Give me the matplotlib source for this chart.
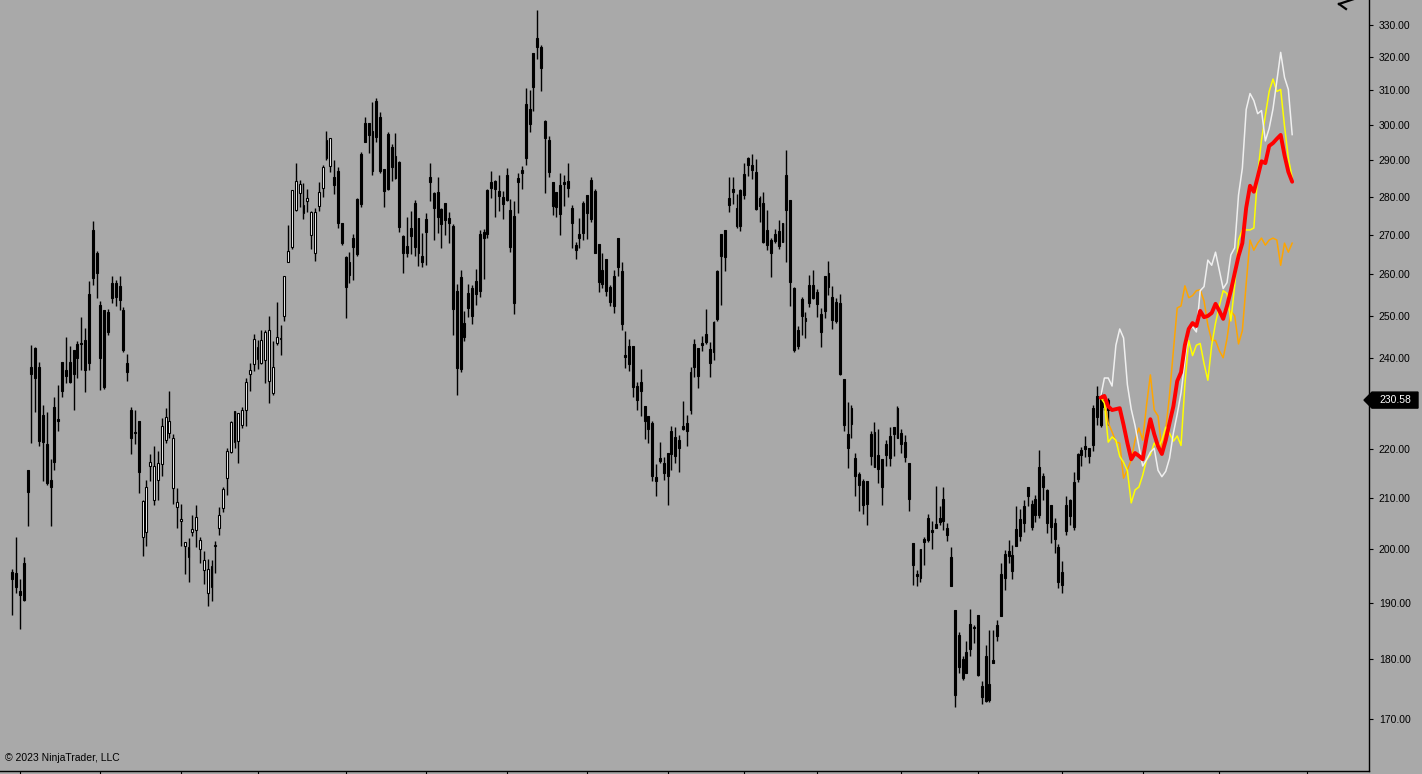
import matplotlib
matplotlib.use("Agg")
import matplotlib.pyplot as plt
import numpy as np
from matplotlib.patches import Polygon
from matplotlib.lines import Line2D
from matplotlib.transforms import IdentityTransform
from matplotlib.ticker import FixedLocator, NullLocator, FuncFormatter

plt.rcParams['font.family'] = ['Liberation Sans', 'DejaVu Sans']

# daily bars
bar_open = [
    195.6, 195.5, 192.1, 197.4, 215.7, 238.1, 242.4, 238.1, 227.3, 221.1,
    213.7, 229.0, 226.4, 239.2, 237.2, 239.2, 241.8, 243.3, 243.5, 244.3,
    255.3, 271.3, 265.5, 252.6, 251.3, 250.9, 258.0, 258.0, 257.1, 251.3,
    239.0, 228.4, 223.7, 226.0, 202.3, 203.3, 216.5, 209.6, 213.7, 216.9,
    222.0, 223.4, 212.0, 208.2, 205.4, 200.5, 198.4, 203.3, 203.7, 199.9,
    196.0, 191.7, 192.9, 200.5, 204.1, 207.9, 214.0, 219.4, 221.5, 221.7,
    225.2, 228.5, 236.5, 238.6, 239.9, 238.9, 239.5, 234.8, 232.2, 243.4,
    244.4, 250.0, 263.2, 267.0, 276.5, 281.0, 275.7, 279.0, 270.1, 265.3,
    277.7, 282.4, 290.6, 288.3, 285.3, 286.9, 273.0, 264.5, 263.0, 269.2,
    279.5, 291.7, 300.6, 300.6, 298.3, 306.8, 302.3, 287.7, 297.3, 293.8,
    291.1, 289.4, 269.7, 267.2, 271.7, 278.3, 274.3, 264.6, 274.2, 285.4,
    281.0, 281.3, 276.8, 278.3, 274.4, 272.4, 255.9, 259.3, 248.2, 255.5,
    256.7, 258.5, 270.3, 270.7, 281.8, 283.9, 284.3, 281.6, 280.1, 285.9,
    276.6, 275.0, 285.2, 287.3, 305.9, 304.5, 321.2, 325.8, 323.0, 301.0,
    295.8, 284.0, 281.3, 283.3, 284.1, 284.3, 277.0, 267.4, 270.2, 278.3,
    280.5, 284.6, 281.6, 267.6, 261.0, 263.8, 257.0, 259.5, 269.1, 260.8,
    240.8, 242.9, 242.9, 233.6, 234.6, 229.2, 227.0, 225.6, 214.2, 218.1,
    217.2, 219.3, 223.9, 222.5, 222.0, 225.0, 225.5, 236.8, 243.3, 242.4,
    243.6, 245.7, 242.1, 248.5, 260.8, 270.2, 271.3, 279.7, 282.0, 277.0,
    281.8, 286.1, 290.5, 288.6, 286.7, 279.8, 278.3, 271.3, 268.7, 270.2,
    271.1, 273.0, 285.9, 279.2, 256.7, 246.6, 253.9, 249.5, 257.3, 257.5,
    255.6, 250.4, 259.6, 260.4, 254.5, 253.3, 253.0, 235.2, 223.2, 228.9,
    218.1, 214.9, 213.5, 213.5, 223.3, 223.7, 218.8, 218.0, 221.1, 222.7,
    224.7, 228.9, 223.5, 221.6, 217.1, 201.1, 195.2, 199.9, 201.9, 206.0,
    203.6, 204.9, 206.0, 209.8, 204.1, 198.4, 188.7, 184.2, 180.0, 181.3,
    186.1, 185.7, 187.7, 175.5, 180.5, 175.8, 179.8, 185.9, 195.3, 199.0,
    199.6, 198.8, 203.9, 205.9, 208.3, 212.3, 208.8, 209.8, 216.3, 214.4,
    211.6, 208.6, 205.0, 200.3, 195.7, 208.6, 209.6, 213.2, 219.0, 219.8,
    220.6, 220.3, 228.9, 231.4, 230.9, 230.9, 228.3,
]
bar_high = [
    196.2, 202.2, 194.4, 198.5, 215.7, 243.1, 242.7, 239.2, 229.5, 227.9,
    218.0, 231.2, 233.9, 239.2, 244.9, 242.9, 242.0, 243.9, 249.6, 247.0,
    258.3, 273.7, 265.9, 253.6, 251.4, 251.5, 259.7, 258.7, 259.7, 252.1,
    241.0, 229.0, 228.3, 226.0, 209.6, 213.7, 219.0, 220.6, 219.6, 226.6,
    228.8, 232.7, 223.2, 212.0, 208.8, 201.4, 202.1, 206.5, 208.6, 202.3,
    199.6, 198.0, 197.9, 201.5, 208.1, 212.2, 220.2, 226.1, 228.1, 227.7,
    229.0, 235.6, 238.9, 245.6, 244.3, 246.6, 246.6, 249.9, 243.9, 253.3,
    247.8, 259.5, 272.5, 281.8, 289.2, 284.7, 283.7, 282.2, 276.3, 277.0,
    284.0, 288.8, 298.1, 296.3, 290.1, 288.1, 273.0, 264.7, 265.7, 270.3,
    279.7, 292.2, 302.3, 300.6, 306.5, 307.8, 303.7, 287.7, 297.8, 294.4,
    297.6, 289.9, 270.1, 274.8, 276.3, 279.2, 274.3, 270.6, 275.7, 289.1,
    281.4, 285.3, 277.0, 278.3, 276.0, 272.9, 257.7, 261.0, 251.1, 257.7,
    257.3, 261.3, 271.3, 271.5, 282.1, 287.1, 284.6, 285.9, 281.6, 287.8,
    279.5, 278.8, 286.6, 288.4, 310.8, 310.2, 321.2, 334.8, 323.8, 301.3,
    296.9, 284.0, 281.3, 286.4, 285.8, 289.1, 277.9, 268.3, 274.4, 278.8,
    280.5, 285.3, 282.0, 267.6, 265.3, 263.8, 257.5, 261.0, 269.1, 263.2,
    246.4, 244.5, 242.9, 234.5, 237.6, 229.2, 227.0, 226.1, 217.0, 221.6,
    218.4, 219.3, 225.0, 224.7, 223.1, 230.3, 227.3, 237.9, 244.5, 242.4,
    245.2, 251.5, 243.7, 248.7, 261.0, 270.2, 271.3, 285.3, 285.3, 280.8,
    282.0, 289.1, 290.9, 291.7, 290.3, 280.3, 281.3, 276.6, 269.1, 271.5,
    273.9, 273.2, 292.8, 279.2, 256.9, 247.6, 254.5, 250.9, 259.9, 261.0,
    256.3, 251.9, 259.6, 263.3, 257.2, 254.3, 255.3, 235.2, 230.2, 229.5,
    219.2, 215.3, 213.8, 213.5, 223.9, 225.9, 224.4, 218.0, 221.9, 224.8,
    224.8, 229.2, 224.4, 223.1, 217.1, 201.1, 196.0, 199.9, 202.3, 206.8,
    205.5, 212.4, 208.4, 212.2, 205.0, 200.3, 188.7, 184.8, 180.5, 183.1,
    188.8, 186.0, 187.7, 176.3, 182.5, 185.0, 185.0, 186.9, 197.4, 199.8,
    201.8, 200.8, 208.3, 207.8, 209.6, 212.3, 209.5, 210.6, 219.9, 215.0,
    211.8, 208.6, 206.0, 201.0, 197.8, 210.3, 209.8, 215.3, 219.2, 220.5,
    222.8, 220.3, 229.5, 233.6, 232.4, 231.6, 231.0,
]
bar_low = [
    187.8, 191.8, 185.3, 190.3, 204.4, 221.4, 228.0, 220.7, 213.5, 212.7,
    204.5, 215.6, 223.8, 231.3, 234.3, 234.3, 228.3, 235.6, 237.4, 232.4,
    237.2, 257.5, 254.2, 232.9, 233.0, 245.4, 253.0, 252.3, 251.3, 241.4,
    234.8, 219.1, 221.2, 210.9, 198.7, 200.5, 213.5, 208.5, 209.5, 214.5,
    221.4, 222.3, 208.8, 204.1, 200.5, 195.3, 193.7, 202.4, 200.3, 197.3,
    193.4, 189.3, 190.2, 195.4, 202.6, 207.1, 210.6, 219.2, 220.2, 217.2,
    224.5, 225.0, 232.5, 237.1, 237.5, 238.6, 234.3, 229.9, 231.6, 243.0,
    240.8, 248.6, 263.2, 266.4, 276.3, 277.2, 274.1, 276.1, 266.4, 263.4,
    276.3, 280.1, 290.1, 286.8, 280.7, 271.7, 267.4, 249.5, 257.8, 258.6,
    264.7, 277.2, 295.2, 292.0, 285.8, 295.2, 286.5, 277.2, 281.9, 284.4,
    284.8, 270.8, 260.3, 264.5, 265.1, 264.7, 262.2, 261.9, 262.3, 278.8,
    268.7, 270.4, 266.6, 269.9, 267.9, 245.3, 231.7, 236.9, 243.9, 249.6,
    247.9, 252.6, 254.5, 258.9, 269.1, 279.7, 274.6, 276.3, 274.2, 279.0,
    265.7, 250.4, 275.7, 282.0, 288.8, 297.8, 304.0, 319.6, 309.8, 281.0,
    285.4, 275.3, 274.7, 269.9, 277.7, 280.1, 266.6, 263.8, 266.6, 268.7,
    268.9, 273.3, 265.3, 255.6, 256.7, 254.7, 252.4, 250.5, 259.6, 246.5,
    237.7, 237.1, 231.3, 228.4, 227.0, 222.1, 221.4, 213.5, 210.4, 217.1,
    213.7, 208.6, 215.7, 217.1, 215.3, 224.1, 220.6, 227.5, 235.7, 233.3,
    241.6, 243.3, 235.7, 239.7, 248.7, 252.6, 260.8, 275.9, 278.2, 271.9,
    271.1, 279.5, 285.6, 284.8, 276.6, 273.5, 268.0, 266.1, 259.3, 267.9,
    266.4, 268.3, 263.2, 252.3, 241.4, 242.1, 245.5, 244.6, 252.1, 253.9,
    249.7, 242.5, 249.5, 255.0, 246.9, 248.1, 236.1, 223.9, 216.1, 222.3,
    210.3, 207.3, 206.7, 204.7, 216.7, 216.2, 213.1, 208.6, 216.5, 216.5,
    218.6, 222.4, 219.2, 217.4, 207.3, 193.3, 193.1, 193.7, 197.0, 201.4,
    200.0, 204.1, 204.6, 203.7, 201.6, 193.1, 171.9, 177.7, 176.4, 177.6,
    180.5, 182.8, 177.2, 172.4, 172.7, 172.7, 179.4, 183.1, 187.5, 192.3,
    197.4, 194.4, 200.6, 201.6, 203.3, 208.4, 203.6, 205.3, 206.1, 209.5,
    203.0, 201.1, 199.2, 192.7, 191.7, 202.6, 204.7, 203.6, 213.3, 216.4,
    218.4, 217.2, 219.7, 225.2, 224.8, 228.4, 225.2,
]
bar_close = [
    194.3, 192.9, 191.3, 190.5, 211.1, 236.4, 235.6, 221.8, 221.6, 213.0,
    212.2, 217.4, 226.1, 232.6, 236.0, 234.6, 236.4, 240.0, 243.2, 237.4,
    239.0, 259.2, 260.4, 240.0, 233.5, 246.0, 254.3, 254.4, 253.8, 241.8,
    236.8, 222.3, 223.4, 215.2, 209.4, 212.2, 217.3, 216.4, 217.1, 224.9,
    226.8, 226.1, 222.3, 209.2, 205.8, 201.3, 200.3, 203.9, 206.2, 201.8,
    197.9, 196.2, 196.7, 200.8, 206.5, 211.8, 219.6, 225.8, 228.1, 227.7,
    228.3, 234.6, 237.3, 244.4, 242.7, 244.3, 246.2, 246.6, 238.1, 244.9,
    244.6, 259.5, 265.8, 281.8, 284.2, 283.6, 277.8, 279.7, 276.1, 275.9,
    281.2, 288.1, 295.7, 296.3, 283.1, 273.0, 267.9, 257.0, 259.9, 266.8,
    265.1, 278.0, 295.2, 297.1, 286.9, 296.5, 286.9, 281.5, 282.1, 288.1,
    285.1, 272.0, 265.3, 265.3, 269.7, 267.0, 265.3, 263.2, 270.9, 283.9,
    277.0, 274.6, 272.8, 273.8, 273.2, 251.5, 237.7, 237.5, 244.9, 251.8,
    250.0, 255.3, 255.9, 269.1, 270.2, 282.3, 282.1, 280.3, 278.2, 279.2,
    266.8, 253.0, 284.1, 286.6, 290.5, 300.3, 310.9, 323.3, 316.6, 296.2,
    286.8, 277.7, 277.3, 275.5, 283.5, 282.3, 273.1, 266.1, 269.3, 270.4,
    275.7, 274.2, 265.5, 258.1, 257.7, 255.9, 253.2, 252.4, 261.9, 247.9,
    240.3, 238.7, 233.4, 230.5, 232.6, 226.1, 224.4, 214.4, 213.5, 217.6,
    215.1, 214.5, 219.0, 218.5, 220.2, 224.2, 223.9, 228.4, 238.0, 236.0,
    243.0, 243.7, 239.0, 241.4, 249.1, 264.7, 264.5, 277.9, 281.4, 272.2,
    272.4, 280.4, 288.8, 287.3, 276.8, 277.7, 268.3, 267.4, 265.3, 268.5,
    267.2, 268.3, 276.6, 258.1, 241.8, 242.9, 249.9, 248.7, 253.0, 254.2,
    252.8, 246.2, 251.1, 256.9, 248.9, 248.7, 236.5, 225.1, 220.2, 225.4,
    214.5, 212.7, 208.5, 208.8, 218.6, 216.2, 215.9, 212.3, 218.8, 218.2,
    223.2, 222.4, 221.0, 218.4, 209.7, 196.9, 194.8, 194.6, 201.4, 201.8,
    203.2, 204.1, 205.2, 205.4, 202.6, 193.1, 174.0, 178.6, 176.8, 177.6,
    181.8, 185.4, 177.3, 173.6, 173.0, 173.1, 179.4, 184.1, 187.5, 194.6,
    198.6, 195.9, 200.6, 202.4, 205.1, 210.3, 204.2, 206.5, 206.5, 212.3,
    205.1, 204.3, 201.9, 193.7, 193.3, 203.4, 206.3, 204.2, 213.9, 218.8,
    220.0, 218.6, 220.9, 226.9, 225.2, 229.0, 230.58,
]
# bars drawn with a white (hollow) body
hollow_bars = list(range(34, 84))

# forecast lines, one value per bar starting at bar 284
proj_start = 284
proj_white = [
    231.2, 235.5, 235.5, 233.7, 243.0, 246.8, 244.7, 234.0, 228.6, 225.0,
    220.6, 216.5, 217.8, 219.4, 220.2, 215.6, 214.3, 215.4, 218.1, 223.4,
    227.5, 232.2, 239.4, 246.6, 247.3, 246.1, 256.0, 257.0, 263.6, 262.3,
    265.6, 261.0, 256.5, 258.0, 264.9, 266.7, 280.5, 287.8, 304.4, 309.1,
    307.0, 303.2, 304.1, 295.4, 299.0, 304.6, 312.8, 321.5, 313.9, 310.3,
    297.2,
]
proj_yellow = [
    231.2, 229.9, 221.5, 222.6, 221.9, 218.5, 217.3, 215.5, 209.0, 211.6,
    212.2, 214.6, 217.8, 218.8, 221.3, 220.2, 221.9, 224.7, 223.4, 221.7,
    222.8, 220.8, 234.0, 244.1, 240.6, 243.0, 243.4, 238.8, 235.0, 243.0,
    248.2, 252.3, 256.0, 255.3, 248.7, 257.2, 268.7, 271.3, 271.3, 271.3,
    271.8, 286.0, 295.7, 302.7, 309.7, 313.4, 309.7, 310.3, 299.7, 290.6,
    285.2,
]
proj_orange = [
    231.2, 230.6, 225.6, 223.7, 221.5, 221.3, 214.0, 215.7, 217.8, 221.9,
    224.5, 221.9, 229.5, 236.2, 228.4, 227.1, 219.8, 224.1, 231.7, 241.7,
    251.8, 252.3, 257.2, 254.3, 254.8, 256.0, 256.2, 253.5, 247.7, 244.1,
    244.1, 241.7, 240.1, 244.5, 251.1, 249.9, 243.3, 246.4, 257.7, 268.7,
    266.1, 267.9, 269.2, 267.4, 268.7, 269.2, 268.7, 262.3, 267.9, 265.6,
    267.9,
]
proj_red = [
    231.1, 231.5, 229.2, 228.4, 228.6, 228.8, 225.2, 221.3, 217.9, 219.2,
    218.6, 217.9, 222.4, 226.4, 223.2, 220.6, 219.0, 221.9, 225.6, 229.2,
    234.8, 236.8, 243.0, 246.8, 248.2, 247.5, 251.1, 249.6, 249.9, 250.6,
    252.8, 251.1, 249.2, 252.3, 256.0, 260.3, 264.6, 267.9, 277.1, 283.0,
    281.4, 285.4, 289.7, 289.2, 294.0, 294.8, 296.0, 297.1, 291.4, 286.8,
    284.1,
]

price_ticks = list(range(170, 331, 10))
month_ticks = [2, 23, 44, 64, 87, 108, 129, 150, 171, 191, 210, 232, 252, 274, 295, 315, 338]
last_price = bar_close[-1]
copyright_text = "\u00a9 2023 NinjaTrader, LLC"

BG = "#a9a9a9"
W, H = 1422, 774

fig = plt.figure(figsize=(W / 100, H / 100), dpi=100)
fig.patch.set_facecolor(BG)
ax = fig.add_axes([0, 3 / H, 1369 / W, 771 / H])
ax.set_facecolor(BG)
ax.set_yscale("log")
ax.set_ylim(161.75, 338.0)
ax.set_xlim(-3.2, 354.05)

o = np.array(bar_open)
hi = np.array(bar_high)
lo = np.array(bar_low)
c = np.array(bar_close)
x = np.arange(len(o))

top = np.maximum(o, c)
bot = np.minimum(o, c)
height = np.maximum(top - bot, 0.25)
fills = ["white" if i in hollow_bars else "black" for i in x]

ax.vlines(x, lo, hi, color="black", lw=1.0, zorder=2)
ax.bar(x, height, bottom=bot, width=0.5, color=fills, edgecolor="black",
       linewidth=0.8, zorder=3)

xp = np.arange(proj_start, proj_start + len(proj_red))
ax.plot(xp, proj_orange, color="#ffa500", lw=1.1, zorder=4)
ax.plot(xp, proj_yellow, color="#ffff00", lw=1.1, zorder=5)
ax.plot(xp, proj_white, color="#f0f0f0", lw=1.1, zorder=5)
ax.plot(xp, proj_red, color="#ff0000", lw=2.8, zorder=6,
        solid_joinstyle="round", solid_capstyle="round")

# axes
for side in ("left", "top"):
    ax.spines[side].set_visible(False)
for side in ("right", "bottom"):
    ax.spines[side].set_color("black")
    ax.spines[side].set_linewidth(1.0)


def price_label(v, pos):
    # the last-price marker hides the label it sits on
    if abs(np.log(v / last_price)) < 0.012:
        return ""
    return f"{v:.2f}"


ax.yaxis.tick_right()
ax.yaxis.set_major_locator(FixedLocator(price_ticks))
ax.yaxis.set_minor_locator(NullLocator())
ax.yaxis.set_major_formatter(FuncFormatter(price_label))
ax.tick_params(axis="y", which="major", length=3, width=0.8, pad=4,
               labelsize=7.5, colors="black")

ax.xaxis.set_major_locator(FixedLocator(month_ticks))
ax.xaxis.set_minor_locator(NullLocator())
ax.set_xticklabels([])
ax.tick_params(axis="x", which="major", length=3, width=0.8, direction="out")

# last price marker on the price axis
fig.canvas.draw()
yd = ax.transData.transform((0, last_price))[1]
marker = Polygon([(1364, yd), (1372, yd + 8), (1418, yd + 8), (1418, yd - 8), (1372, yd - 8)],
                 closed=True, facecolor="black", edgecolor="black",
                 transform=IdentityTransform(), clip_on=False, zorder=10)
fig.add_artist(marker)
fig.text(1395, yd, f"{last_price:.2f}", color="white", fontsize=7.5,
         ha="center", va="center", transform=IdentityTransform(), zorder=11)

# small arrow glyph cut off at the top right
for seg in ([(1339, H - 4), (1354, H + 1)], [(1339, H - 4), (1346, H - 9)]):
    xs, ys = zip(*seg)
    fig.add_artist(Line2D(xs, ys, color="black", lw=1.6,
                          transform=IdentityTransform()))

fig.text(5 / W, 1 - 758 / H, copyright_text, fontsize=7.5, color="black",
         ha="left", va="center")

fig.savefig("out.png", dpi=100, facecolor=BG)
